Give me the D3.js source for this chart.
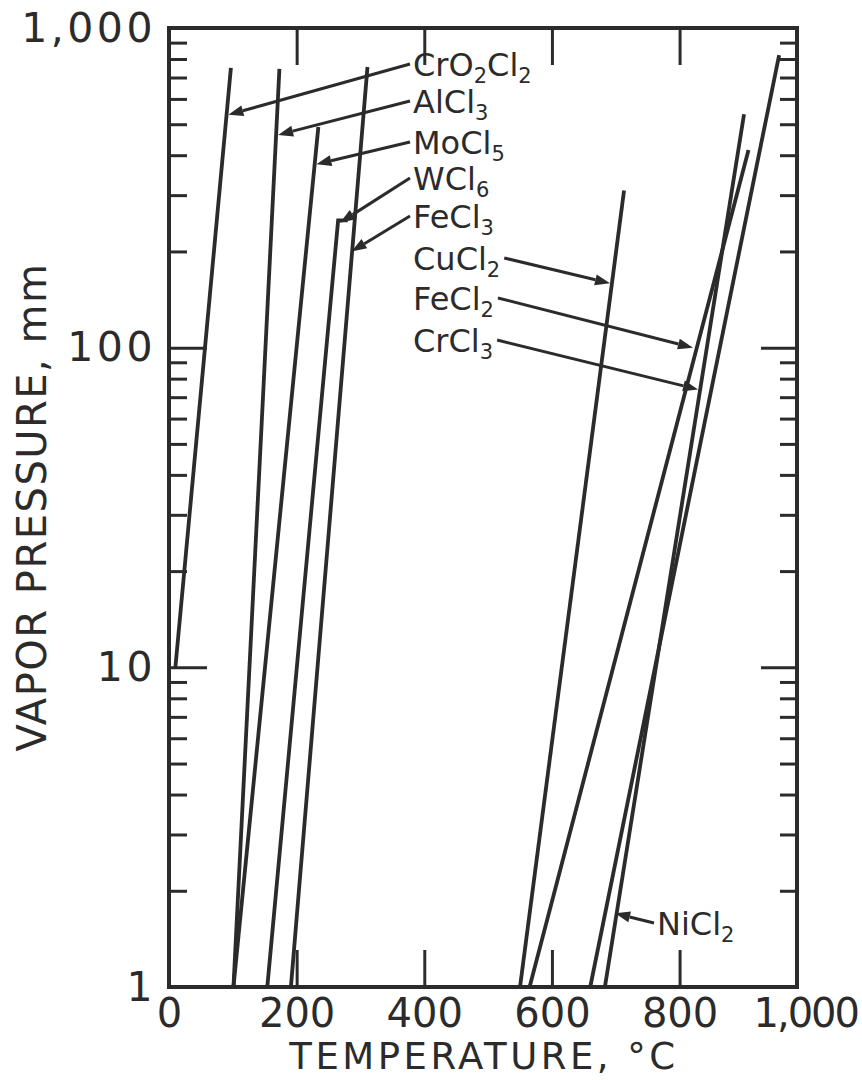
<!DOCTYPE html>
<html>
<head>
<meta charset="utf-8">
<script src="https://cdn.jsdelivr.net/npm/d3@7"></script>
<style>
  body { margin: 0; background: #fff; }
  svg text { font-family: "DejaVu Sans", sans-serif; fill: #2b2b2b; }
</style>
</head>
<body>
<div id="chart"></div>
<script>
// compounds and the end points of their vapour pressure lines (temperature °C, pressure mm)
const compounds = ["CrO2Cl2", "AlCl3", "MoCl5", "WCl6", "FeCl3", "CuCl2", "FeCl2", "CrCl3", "NiCl2"];
const lineTemps = [[10, 97], [101, 173], [101, 234], [154, 265, 280], [191, 311], [550, 713], [565, 908], [683, 901], [660, 956]];
const linePressures = [[10, 750], [1, 745], [1, 490], [1, 250, 250], [1, 755], [1, 310], [1, 415], [1, 537], [1, 823]];

// where each label arrow touches its line
const tipTemps = [93, 171, 231, 268, 286, 691, 821, 829, 699];
const tipPressures = [535, 463, 375, 246, 200, 159, 100, 74, 1.7];

// axis ticks
const xTicks = [0, 200, 400, 600, 800, 1000];
const xTickLabels = ["0", "200", "400", "600", "800", "1,000"];
const yTicks = [1, 10, 100, 1000];
const yTickLabels = ["1", "10", "100", "1,000"];
const yMinorTicks = [2, 3, 4, 5, 6, 7, 8, 9, 20, 30, 40, 50, 60, 70, 80, 90, 200, 300, 400, 500, 600, 700, 800, 900];

// layout
const width = 862, height = 1080;
const frame = { left: 169, right: 797, top: 28, bottom: 987 };
const frameTempMax = 984;
const ink = "#2b2b2b";
// label placement: [x, baseline, side the arrow leaves from]
const labelSlots = [
  [413, 76, "left"], [413, 113, "left"], [413, 154, "left"], [413, 190, "left"], [413, 228, "left"],
  [413, 270, "right"], [413, 310, "right"], [413, 352, "right"], [657, 935, "left"]
];

const x = d3.scaleLinear().domain([0, frameTempMax]).range([frame.left, frame.right]);
const y = d3.scaleLog().domain([1, 1000]).range([frame.bottom, frame.top]);

const svg = d3.select("#chart").append("svg")
  .attr("width", width)
  .attr("height", height);

function styleAxis(g, fontSize) {
  g.select(".domain").remove();
  g.selectAll("line").attr("stroke", ink).attr("stroke-width", 3);
  g.selectAll("text")
    .attr("font-family", "DejaVu Sans, sans-serif")
    .attr("font-size", fontSize)
    .attr("fill", ink);
}

// bottom axis with labels
svg.append("g")
  .attr("transform", "translate(0," + frame.bottom + ")")
  .call(d3.axisBottom(x).tickValues(xTicks).tickSize(-37).tickPadding(12)
    .tickFormat((d, i) => xTickLabels[i]))
  .call(g => styleAxis(g, 40))
  .call(g => g.selectAll(".tick line").filter(d => d === 0 || d === 1000).remove())
  .call(g => g.selectAll(".tick text").filter(d => d === 1000)
    .attr("letter-spacing", -2).attr("dx", -2));

// top axis, ticks only
svg.append("g")
  .attr("transform", "translate(0," + frame.top + ")")
  .call(d3.axisTop(x).tickValues(xTicks.slice(1, 5)).tickSize(-37).tickFormat(""))
  .call(g => styleAxis(g, 40));

// left axis, majors with labels then minors
svg.append("g")
  .attr("transform", "translate(" + frame.left + ",0)")
  .call(d3.axisLeft(y).tickValues(yTicks).tickSize(-38).tickPadding(13)
    .tickFormat((d, i) => yTickLabels[i]))
  .call(g => styleAxis(g, 41))
  .call(g => g.selectAll(".tick text").attr("letter-spacing", 3.5))
  .call(g => g.selectAll(".tick line").filter(d => d === 1 || d === 1000).remove());

svg.append("g")
  .attr("transform", "translate(" + frame.left + ",0)")
  .call(d3.axisLeft(y).tickValues(yMinorTicks).tickSize(-18).tickFormat(""))
  .call(g => styleAxis(g, 40));

// right axis
svg.append("g")
  .attr("transform", "translate(" + frame.right + ",0)")
  .call(d3.axisRight(y).tickValues([10, 100]).tickSize(-36).tickFormat(""))
  .call(g => styleAxis(g, 40));

svg.append("g")
  .attr("transform", "translate(" + frame.right + ",0)")
  .call(d3.axisRight(y).tickValues(yMinorTicks).tickSize(-17).tickFormat(""))
  .call(g => styleAxis(g, 40));

// frame
svg.append("rect")
  .attr("x", frame.left)
  .attr("y", frame.top)
  .attr("width", frame.right - frame.left)
  .attr("height", frame.bottom - frame.top)
  .attr("fill", "none")
  .attr("stroke", ink)
  .attr("stroke-width", 4);

// vapour pressure lines
const line = d3.line()
  .x(d => x(d[0]))
  .y(d => y(d[1]));

compounds.forEach((name, i) => {
  const pts = lineTemps[i].map((t, j) => [t, linePressures[i][j]]);
  svg.append("path")
    .datum(pts)
    .attr("class", "vp-line")
    .attr("d", line)
    .attr("fill", "none")
    .attr("stroke", ink)
    .attr("stroke-width", 3.8)
    .attr("stroke-linejoin", "miter");
});

// chemical formula with subscripts
function addFormula(text, formula) {
  const parts = formula.match(/[A-Za-z]+|\d+/g);
  let lowered = false;
  parts.forEach(p => {
    const t = text.append("tspan").text(p);
    if (/\d/.test(p)) {
      t.attr("font-size", 21).attr("dy", 7);
      lowered = true;
    } else if (lowered) {
      t.attr("dy", -7);
      lowered = false;
    }
  });
}

// labels and arrows
compounds.forEach((name, i) => {
  const [lx, ly, side] = labelSlots[i];
  const label = svg.append("text")
    .attr("x", lx)
    .attr("y", ly)
    .attr("font-size", 32);
  addFormula(label, name);

  const box = label.node().getBBox();
  const sx = side === "left" ? lx - 3 : box.x + box.width + 4;
  const sy = ly - 12;
  const tx = x(tipTemps[i]);
  const ty = y(tipPressures[i]);

  const dx = tx - sx, dy = ty - sy;
  const len = Math.sqrt(dx * dx + dy * dy);
  const ux = dx / len, uy = dy / len;
  const headLen = 15, headHalf = 5.5;
  const bx = tx - ux * headLen, by = ty - uy * headLen;

  svg.append("line")
    .attr("x1", sx).attr("y1", sy)
    .attr("x2", bx).attr("y2", by)
    .attr("stroke", ink)
    .attr("stroke-width", 3);

  svg.append("path")
    .attr("d", "M" + tx + "," + ty +
      "L" + (bx - uy * headHalf) + "," + (by + ux * headHalf) +
      "L" + (bx + uy * headHalf) + "," + (by - ux * headHalf) + "Z")
    .attr("fill", ink);
});

// axis titles
svg.append("text")
  .attr("x", 484)
  .attr("y", 1069)
  .attr("text-anchor", "middle")
  .attr("font-size", 37)
  .attr("letter-spacing", 3.5)
  .text("TEMPERATURE, °C");

svg.append("text")
  .attr("transform", "translate(46,507) rotate(-90)")
  .attr("text-anchor", "middle")
  .attr("font-size", 40)
  .attr("letter-spacing", 1.5)
  .text("VAPOR PRESSURE, mm");
</script>
</body>
</html>
